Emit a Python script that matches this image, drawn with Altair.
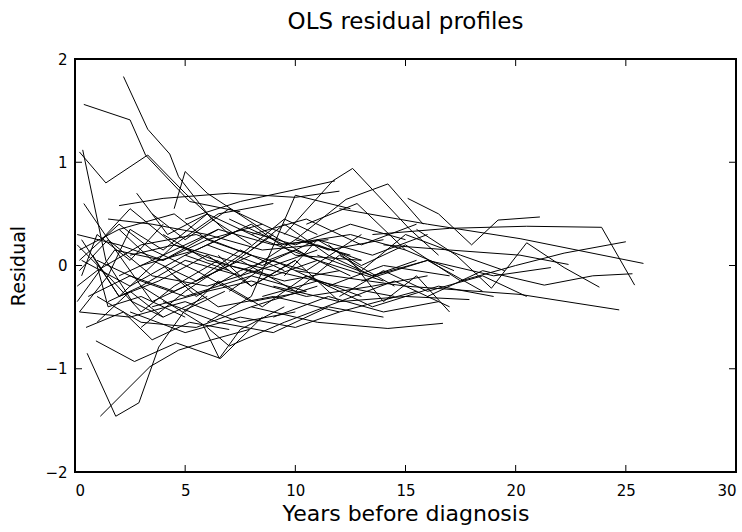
import altair as alt
import pandas as pd

# Years before diagnosis at each visit, one list per subject
profile_years = [
    [2.2, 3.3, 4.3, 4.7, 6.2, 8.0],
    [0.4, 2.5, 3.2, 5.2, 7.5],
    [0.2, 1.4, 3.3, 5.0, 7.0],
    [0.35, 1.4, 2.6, 4.0],
    [0.55, 1.85, 2.9, 3.8, 5.0, 6.8],
    [1.15, 3.4, 4.7, 6.2, 7.9],
    [0.95, 2.7, 4.6, 6.6, 8.5],
    [0.5, 2.2, 3.5, 5.2, 7.0],
    [3.0, 4.5, 5.8, 6.55, 7.5, 9.5],
    [9.5, 11.7, 12.6, 15.2, 16.5],
    [10.0, 12.3, 14.2, 15.8],
    [5.0, 7.5, 9.9, 11.8],
    [2.0, 4.0, 7.0, 10.0, 12.0],
    [4.5, 5.0, 6.0, 8.5, 10.5],
    [6.0, 8.0, 10.0, 12.5],
    [3.0, 5.0, 7.5, 9.5, 11.0],
    [0.3, 2.0, 4.5, 6.5, 9.0],
    [13.5, 17.0, 20.5, 23.9, 25.4],
    [12.0, 16.0, 20.2, 25.8],
    [17.5, 20.0, 22.2, 25.0],
    [10.0, 15.0, 20.2, 24.7],
    [16.0, 18.5, 21.3, 23.5, 25.3],
    [15.5, 17.3, 18.9, 20.5, 22.2, 23.8],
    [14.0, 17.0, 20.2, 22.4],
    [15.1, 16.5, 18.0, 19.2, 21.1],
    [13.0, 16.0, 19.0, 21.6],
    [8.0, 11.0, 14.2, 16.7],
    [9.0, 12.0, 15.0, 17.9],
    [11.0, 13.5, 16.0, 18.5],
    [12.5, 14.0, 15.5, 17.0],
    [7.0, 9.5, 12.5, 15.0],
    [10.5, 12.8, 15.0, 17.2],
    [2.5, 5.0, 7.5, 10.0, 12.0],
    [4.0, 6.5, 9.0, 11.5, 14.0],
    [6.0, 7.0, 9.5, 12.0],
    [0.2, 2.5, 5.0, 7.5, 10.0],
    [1.0, 3.0, 5.5, 8.0, 11.0],
    [0.1, 2.0, 4.0, 6.0, 8.0],
    [0.2, 1.5, 3.5, 6.0, 9.0, 11.0],
    [0.3, 2.5, 5.0, 7.0],
    [0.1, 1.0, 3.0, 5.5, 8.0],
    [0.6, 2.5, 4.5, 7.0, 9.5, 12.0],
    [0.1, 1.8, 4.0, 6.5],
    [0.2, 2.0, 4.5, 6.0, 8.5],
    [1.0, 3.0, 5.0, 8.0, 10.5],
    [1.5, 3.5, 6.0, 8.5, 11.0, 13.0],
    [2.0, 4.0, 6.5, 9.0, 11.5],
    [2.5, 4.5, 7.0, 9.0, 12.0, 14.5],
    [3.0, 5.5, 8.0, 10.0, 13.0],
    [3.5, 6.0, 8.0, 10.5, 13.5, 16.0],
    [4.0, 6.0, 9.0, 11.0, 14.0],
    [5.0, 7.5, 10.0, 12.5, 15.0],
    [5.5, 8.0, 10.5, 13.0],
    [6.0, 8.5, 11.0, 13.5, 16.0],
    [7.0, 9.0, 11.5, 14.0, 17.0],
    [7.5, 10.0, 12.0, 14.5],
    [8.0, 10.5, 13.0, 15.5],
    [8.5, 11.0, 13.5, 16.5, 19.0],
    [0.4, 2.0, 3.5, 5.0],
    [0.2, 1.5, 2.5, 4.0, 6.0],
    [1.2, 2.5, 4.5, 7.0, 9.0],
    [0.8, 2.0, 3.8, 6.0, 8.0, 10.0],
    [2.8, 4.2, 6.0, 8.5, 11.0],
    [9.0, 11.5, 14.0, 16.5],
    [11.5, 13.0, 15.0, 17.5, 19.5],
    [4.5, 6.5, 9.0, 12.0, 15.5],
    [1.0, 1.5, 3.0, 5.0],
    [0.1, 1.5, 3.0, 4.5, 6.5],
    [0.3, 1.0, 2.5, 4.0],
    [1.5, 3.0, 5.0, 7.5, 10.0, 12.5],
    [2.0, 3.5, 5.5, 7.5, 9.5],
    [3.5, 5.0, 7.0, 9.0, 11.5, 14.0],
    [5.0, 6.5, 8.5, 10.5, 13.0],
    [6.5, 8.0, 10.0, 12.0, 14.5, 17.0],
    [8.0, 9.5, 11.5, 13.5, 15.5],
    [9.5, 11.0, 13.0, 15.0, 17.5],
    [0.2, 2.0, 3.5, 5.5, 8.0, 10.5],
    [1.0, 2.5, 4.0, 6.0],
    [4.0, 5.5, 7.5, 10.0, 12.5],
    [12.0, 14.0, 16.0, 18.5, 20.5],
]

# OLS residual at each visit, matching profile_years
profile_resid = [
    [1.83, 1.32, 1.08, 0.86, 0.45, 0.20],
    [1.56, 1.41, 1.07, 0.62, 0.52],
    [1.10, 0.80, 1.07, 0.70, 0.30],
    [1.12, 0.05, -0.35, -0.50],
    [-0.85, -1.46, -1.33, -0.79, -0.43, -0.25],
    [-1.46, -0.98, -0.82, -0.72, -0.62],
    [-0.73, -0.93, -0.75, -0.90, -0.50],
    [-0.60, -0.45, -0.72, -0.55, -0.62],
    [-0.20, -0.40, -0.57, -0.90, -0.62, -0.40],
    [0.30, 0.82, 0.94, 0.35, 0.10],
    [0.25, 0.64, 0.79, 0.40],
    [0.45, 0.62, 0.73, 0.82],
    [0.58, 0.65, 0.70, 0.66, 0.72],
    [0.55, 0.91, 0.70, 0.35, 0.10],
    [-0.55, -0.30, 0.68, 0.55],
    [-0.60, -0.25, 0.10, 0.45, 0.30],
    [0.25, -0.30, 0.20, 0.50, 0.60],
    [0.30, 0.36, 0.38, 0.37, -0.19],
    [0.55, 0.40, 0.26, 0.02],
    [-0.15, 0.00, 0.12, 0.23],
    [-0.05, -0.20, -0.28, -0.43],
    [-0.30, -0.05, -0.19, -0.10, -0.08],
    [0.35, 0.10, -0.22, 0.22, -0.02, -0.21],
    [0.20, 0.15, 0.10, 0.01],
    [0.65, 0.50, 0.20, 0.44, 0.47],
    [-0.15, 0.05, -0.10, -0.02],
    [-0.40, -0.55, -0.61, -0.56],
    [-0.20, -0.35, -0.30, -0.33],
    [0.10, -0.10, 0.05, -0.25],
    [0.05, -0.35, -0.10, -0.45],
    [0.45, 0.20, 0.30, 0.15],
    [0.40, 0.60, 0.15, -0.05],
    [-0.45, -0.65, -0.50, -0.60, -0.45],
    [-0.35, -0.55, -0.65, -0.40, -0.50],
    [-0.60, -0.78, -0.55, -0.35],
    [-0.45, -0.50, -0.35, -0.55, -0.45],
    [-0.30, -0.55, -0.60, -0.40, -0.20],
    [0.30, 0.20, 0.05, 0.25, 0.10],
    [-0.05, 0.25, -0.10, -0.20, 0.00, 0.15],
    [0.05, -0.20, 0.10, -0.05],
    [-0.20, -0.05, 0.20, 0.30, 0.10],
    [-0.30, -0.10, -0.25, 0.00, -0.15, -0.05],
    [-0.35, 0.15, 0.05, 0.35],
    [0.15, 0.35, 0.50, 0.25, 0.40],
    [0.05, -0.15, -0.30, -0.10, -0.25],
    [0.45, 0.40, 0.30, 0.15, 0.20, 0.05],
    [-0.10, 0.10, 0.35, 0.20, 0.25],
    [0.10, 0.20, 0.05, -0.05, -0.20, -0.30],
    [0.00, 0.15, 0.40, 0.10, 0.05],
    [-0.40, -0.25, -0.15, -0.30, -0.20, -0.10],
    [0.30, 0.05, -0.10, 0.05, -0.15],
    [0.10, 0.35, 0.20, 0.40, 0.25],
    [-0.15, 0.10, -0.05, 0.30],
    [0.20, 0.00, 0.25, 0.10, 0.30],
    [-0.25, 0.05, -0.20, 0.00, -0.10],
    [0.05, -0.25, 0.10, -0.20],
    [0.30, 0.45, 0.20, 0.40],
    [-0.30, -0.15, -0.40, -0.20, -0.30],
    [0.60, 0.10, -0.35, -0.20],
    [-0.45, -0.10, 0.35, 0.15, 0.50],
    [0.25, 0.55, 0.20, 0.00, 0.30],
    [0.10, -0.30, -0.15, 0.10, -0.20, 0.05],
    [0.70, 0.30, 0.50, 0.25, 0.05],
    [-0.50, -0.30, -0.45, -0.35],
    [0.20, -0.05, 0.30, 0.10, -0.05],
    [-0.10, -0.40, -0.30, -0.45, -0.25],
    [0.00, -0.40, -0.30, -0.50],
    [0.20, -0.10, -0.45, -0.20, 0.05],
    [-0.10, 0.30, 0.05, 0.40],
    [-0.35, -0.20, 0.05, -0.10, 0.25, 0.10],
    [0.35, 0.05, -0.15, 0.15, -0.05],
    [0.50, 0.25, 0.55, 0.35, 0.15, 0.25],
    [-0.45, -0.15, -0.40, -0.10, -0.30],
    [0.10, -0.20, 0.05, -0.35, -0.15, -0.40],
    [0.15, 0.40, 0.10, -0.10, 0.05],
    [-0.10, 0.25, 0.00, 0.20, -0.15],
    [0.05, 0.40, 0.15, -0.05, -0.35, -0.25],
    [-0.55, -0.25, -0.50, -0.30],
    [0.00, -0.30, -0.05, 0.15, -0.10],
    [-0.30, -0.05, -0.25, -0.10, -0.30],
]

x_ticks = [0, 5, 10, 15, 20, 25, 30]
y_ticks = [-2, -1, 0, 1, 2]

rows = []
for sid, (xs, ys) in enumerate(zip(profile_years, profile_resid)):
    for order, (xv, yv) in enumerate(zip(xs, ys)):
        rows.append({"subject": sid, "visit": order, "years": xv, "resid": yv})
profiles = pd.DataFrame(rows)

W, H = 661, 413
TICK = 7
FONT = "DejaVu Sans"

x_scale = alt.Scale(domain=[0, 30], nice=False, zero=False)
y_scale = alt.Scale(domain=[-2, 2], nice=False, zero=False)

x_axis = alt.Axis(
    values=x_ticks, format="d", title="Years before diagnosis", domain=False,
    ticks=False, grid=False, labelFlush=True, labelPadding=11, labelFontSize=15,
    labelFont=FONT, labelColor="black", titleFont=FONT, titleFontSize=22,
    titleFontWeight="normal", titleColor="black", titlePadding=5,
)
y_axis = alt.Axis(
    values=y_ticks, format="d", title="Residual", domain=False, ticks=False,
    grid=False, labelPadding=8, labelFontSize=15, labelFont=FONT,
    labelColor="black", labelExpr="replace(datum.label, '-', '\u2212')",
    titleFont=FONT, titleFontSize=19, titleFontWeight="normal",
    titleColor="black", titlePadding=16,
)

lines = alt.Chart(profiles).mark_line(color="black", strokeWidth=1).encode(
    x=alt.X("years:Q", scale=x_scale, axis=x_axis),
    y=alt.Y("resid:Q", scale=y_scale, axis=y_axis),
    detail="subject:N",
    order="visit:Q",
)

xt = pd.DataFrame({"v": x_ticks})
yt = pd.DataFrame({"v": y_ticks})

# inward-pointing tick marks on all four sides of the frame
tick_bottom = alt.Chart(xt).mark_rule(color="black", strokeWidth=1).encode(
    x=alt.X("v:Q", scale=x_scale), y=alt.value(H), y2=alt.value(H - TICK))
tick_top = alt.Chart(xt).mark_rule(color="black", strokeWidth=1).encode(
    x=alt.X("v:Q", scale=x_scale), y=alt.value(0), y2=alt.value(TICK))
tick_left = alt.Chart(yt).mark_rule(color="black", strokeWidth=1).encode(
    y=alt.Y("v:Q", scale=y_scale), x=alt.value(0), x2=alt.value(TICK))
tick_right = alt.Chart(yt).mark_rule(color="black", strokeWidth=1).encode(
    y=alt.Y("v:Q", scale=y_scale), x=alt.value(W), x2=alt.value(W - TICK))

chart = alt.layer(lines, tick_bottom, tick_top, tick_left, tick_right).properties(
    width=W, height=H,
    title=alt.TitleParams(
        "OLS residual profiles", font=FONT, fontSize=23, fontWeight="normal",
        color="black", anchor="middle", offset=18,
    ),
    autosize=alt.AutoSizeParams(type="none"),
    padding={"left": 75, "top": 59, "right": 6, "bottom": 60},
    background="white",
).configure_view(
    stroke="black", strokeWidth=2
)

chart.save("out.html", embed_options={"renderer": "svg", "actions": False})
